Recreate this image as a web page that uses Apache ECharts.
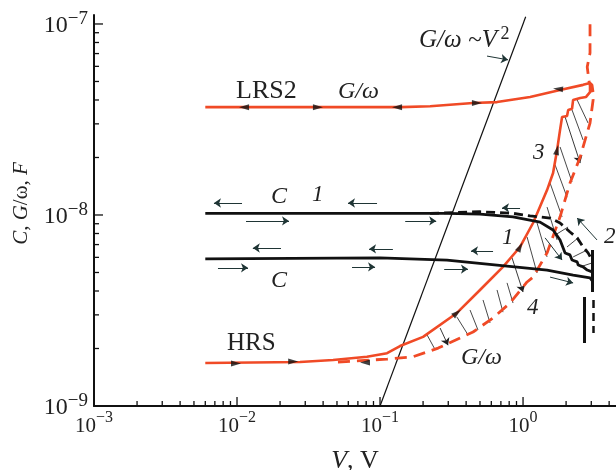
<!DOCTYPE html>
<html><head><meta charset="utf-8">
<script src="https://cdn.jsdelivr.net/npm/echarts@6/dist/echarts.min.js"></script>
<style>html,body{margin:0;padding:0;background:#fff}#c{width:616px;height:470px}</style>
</head><body><div id="c"></div>
<script>
// ---------- axis ticks (decades) ----------
const xMajorTicks = [0.001, 0.01, 0.1, 1];
const xMajorExp = ['−3', '−2', '−1', '0'];
const yMajorTicks = [1e-9, 1e-8, 1e-7];
const yMajorExp = ['−9', '−8', '−7'];
const minorMultipliers = [2, 3, 4, 5, 6, 7, 8, 9];

// ---------- curves [V (volts), value (F)] ----------
const lrs2G = [[0.006,3.67e-8],[0.05,3.67e-8],[0.14,3.67e-8],[0.224,3.71e-8],[0.447,3.86e-8],[0.658,3.90e-8],[1.12,4.15e-8],[1.815,4.51e-8],[2.63,4.80e-8],[2.94,4.91e-8],[3.04,4.80e-8],[3.09,4.41e-8]];
const hrsG = [[0.006,1.68e-9],[0.0276,1.70e-9],[0.047,1.74e-9],[0.081,1.81e-9],[0.112,1.89e-9],[0.138,2.06e-9],[0.200,2.30e-9],[0.345,3.07e-9],[0.500,4.05e-9],[0.724,5.35e-9],[0.953,6.80e-9],[1.175,9.08e-9],[1.472,1.35e-8],[1.622,1.66e-8],[1.730,2.19e-8],[1.815,2.79e-8],[1.875,3.26e-8],[2.03,3.30e-8],[2.07,3.55e-8],[2.20,3.60e-8],[2.24,4.0e-8],[2.51,4.10e-8],[2.76,4.15e-8],[2.94,4.4e-8],[2.94,4.91e-8]];
const hrsGdashed = [[0.0508,1.70e-9],[0.112,1.76e-9],[0.170,1.81e-9],[0.255,2.01e-9],[0.447,2.44e-9],[0.617,2.89e-9],[0.811,3.46e-9],[1.067,4.46e-9],[1.175,4.73e-9],[1.472,6.33e-9],[1.815,9.78e-9],[2.13,1.47e-8],[2.51,2.01e-8],[2.94,3.03e-8],[3.09,4.0e-8],[3.04,4.51e-8],[2.90,4.96e-8],[2.81,5.96e-8],[2.94,7.05e-8],[2.94,1.01e-7]];
const cUpper = [[0.006,1.02e-8],[0.1,1.02e-8],[0.294,1.02e-8],[0.5,1.01e-8],[0.851,9.78e-9],[1.315,9.18e-9],[1.622,8.34e-9],[1.815,7.40e-9],[1.968,6.33e-9],[2.13,6.18e-9],[2.20,5.81e-9],[2.39,5.68e-9],[2.43,5.47e-9],[2.63,5.35e-9],[2.81,5.15e-9],[3.04,5.04e-9]];
const cUpperDashed = [[0.224,1.02e-8],[0.5,1.04e-8],[0.851,1.02e-8],[1.12,9.89e-9],[1.545,9.64e-9],[1.815,9.08e-9],[2.13,8.15e-9],[2.39,7.59e-9],[2.63,6.80e-9],[2.85,6.33e-9],[3.04,5.81e-9]];
const cLower = [[0.006,5.89e-9],[0.1,5.96e-9],[0.294,5.81e-9],[0.658,5.47e-9],[1.472,5.15e-9],[2.24,4.85e-9],[2.94,4.68e-9],[3.09,4.46e-9]];
const blackVerticalSolid = [[[3.04,6.56e-9],[3.04,3.95e-9]],[[2.67,3.72e-9],[2.67,2.14e-9]]];
const blackVerticalDashed = [[[3.09,3.59e-9],[3.09,2.41e-9]]];
const powerLaw = [[0.1,1e-9],[1.044,1.09e-7]];

// ---------- hatching segments [[V1,F1],[V2,F2], arrow?] ----------
const hatchRed = [
 [[0.213,2.36e-9],[0.243,1.97e-9],0],[[0.263,2.56e-9],[0.299,2.08e-9],1],[[0.345,2.92e-9],[0.412,2.36e-9],0],
 [[0.426,3.18e-9],[0.484,2.50e-9],0],[[0.525,3.59e-9],[0.588,2.72e-9],0],[[0.658,4.05e-9],[0.724,3.10e-9],0],
 [[0.773,4.41e-9],[0.851,3.46e-9],0],[[0.838,5.96e-9],[1.0,3.95e-9],1],[[1.067,7.67e-9],[1.253,4.97e-9],0],
 [[1.253,9.08e-9],[1.472,6.03e-9],0],[[1.472,1.10e-8],[1.730,7.40e-9],0],[[1.545,1.47e-8],[1.875,9.78e-9],0],
 [[1.675,1.83e-8],[2.03,1.24e-8],0],[[1.815,2.27e-8],[2.20,1.49e-8],0],[[1.968,3.26e-8],[2.51,1.87e-8],1],
 [[2.20,3.55e-8],[2.63,2.47e-8],0],[[2.39,4.00e-8],[2.85,3.03e-8],0]
];
const hatchBlack = [
 [[1.675,7.85e-9],[2.065,8.65e-9]],[[2.03,6.80e-9],[2.43,7.59e-9]],[[2.24,6.03e-9],[2.81,6.56e-9]],[[2.51,5.35e-9],[3.04,5.61e-9]]
];
// ---------- direction arrows [[Vstart,Fstart],[Vend,Fend]] ----------
const freeArrows = [
 [[0.01084,1.155e-8],[0.0069,1.155e-8]],[[0.0953,1.155e-8],[0.0597,1.155e-8]],[[0.953,1.09e-8],[0.713,1.09e-8]],
 [[0.01156,9.31e-9],[0.0231,9.31e-9]],[[0.150,9.31e-9],[0.247,9.31e-9]],
 [[0.0203,6.72e-9],[0.0129,6.72e-9]],[[0.123,6.64e-9],[0.0838,6.64e-9]],[[0.617,6.49e-9],[0.433,6.49e-9]],
 [[0.00736,5.29e-9],[0.01194,5.29e-9]],[[0.0637,5.35e-9],[0.0923,5.35e-9]],[[0.281,5.21e-9],[0.412,5.21e-9]],
 [[1.545,4.73e-9],[2.24,4.41e-9]],[[1.426,7.59e-9],[1.875,5.81e-9]],[[3.29,7.40e-9],[2.39,9.64e-9]],
 [[0.560,6.79e-8],[0.785,6.49e-8]]
];
// arrowheads sitting on curves: [V, F, rotation deg]
const curveHeads = [
 [0.0112,3.67e-8,90],[0.0368,3.67e-8,-90],[0.1315,3.67e-8,90],[0.476,3.86e-8,-90],[1.757,4.57e-8,85],
 [0.00984,1.67e-9,-90],[0.0247,1.71e-9,-90],[0.0785,1.69e-9,90],[0.345,3.07e-9,-50],[0.953,6.80e-9,-28],[1.73,2.19e-8,-12]
];

const RED = '#f04a26', BLK = '#111';
const serif = 'Liberation Serif';

// both axes are logarithmic: values are mapped to decades (log10) and drawn on value axes
const lg = Math.log10;
const P = p => [lg(p[0]), lg(p[1])];
const L = pts => pts.map(P);

function lab(exp){ return '{b|10}{s|' + exp + '}'; }
const xLabelRich = {
  b: {fontFamily: serif, fontSize: 21, color: '#222', verticalAlign: 'bottom', lineHeight: 27},
  s: {fontFamily: serif, fontSize: 16, color: '#222', verticalAlign: 'top', lineHeight: 27}
};
const yLabelRich = {
  b: {fontFamily: serif, fontSize: 24, color: '#222', verticalAlign: 'bottom', lineHeight: 28},
  s: {fontFamily: serif, fontSize: 19, color: '#222', verticalAlign: 'top', lineHeight: 28}
};
function minorList(decades){ const r=[]; decades.forEach(d=>minorMultipliers.forEach(m=>r.push(m*d))); return r; }

const xMinLog = -3, xMaxLog = 0.65;
const yMinLog = -9, yMaxLog = -6.953;
const G = {left:94, right:0, top:15, bottom:64};
const xMajorLog = xMajorTicks.map(lg), yMajorLog = yMajorTicks.map(lg);
const xMinorLog = minorList([0.001,0.01,0.1,1]).map(lg).filter(v=>v<xMaxLog);
const yMinorLog = minorList([1e-9,1e-8]).map(lg);
function expFor(list, exps, v){ let best=0; list.forEach((t,i)=>{ if (Math.abs(t-v) < Math.abs(list[best]-v)) best=i; }); return exps[best]; }

// tick items: [x, y, length(px), direction 0 = up from x axis, 1 = right from y axis]
const MAJOR_LEN = 9, MINOR_LEN = 5;
const tickItems = []
  .concat(xMinorLog.map(v => [v, yMinLog, MINOR_LEN, 0]))
  .concat(xMajorLog.slice(1).map(v => [v, yMinLog, MAJOR_LEN, 0]))
  .concat(yMinorLog.map(v => [xMinLog, v, MINOR_LEN, 1]))
  .concat(yMajorLog.slice(1).map(v => [xMinLog, v, MAJOR_LEN, 1]));

const textLabels = [
  {type:'text', style:{x:419, y:40, text:'{i|G/ω}  {n|~}{i|V} {s|2}', verticalAlign:'middle', rich:{i:{fontFamily:serif,fontStyle:'italic',fontSize:25,fill:'#222'},n:{fontFamily:serif,fontSize:25,fill:'#222'},s:{fontFamily:serif,fontSize:18,fill:'#222',verticalAlign:'top',lineHeight:30}}}},
  {type:'text', style:{x:236, y:91, text:'LRS2', font:'26px "Liberation Serif"', fill:'#222', verticalAlign:'middle'}},
  {type:'text', style:{x:338, y:92, text:'G/ω', font:'italic 24px "Liberation Serif"', fill:'#222', verticalAlign:'middle'}},
  {type:'text', style:{x:271, y:197, text:'C', font:'italic 24px "Liberation Serif"', fill:'#222', verticalAlign:'middle'}},
  {type:'text', style:{x:312, y:195, text:'1', font:'italic 23px "Liberation Serif"', fill:'#222', verticalAlign:'middle'}},
  {type:'text', style:{x:271, y:281, text:'C', font:'italic 24px "Liberation Serif"', fill:'#222', verticalAlign:'middle'}},
  {type:'text', style:{x:502, y:238, text:'1', font:'italic 23px "Liberation Serif"', fill:'#222', verticalAlign:'middle'}},
  {type:'text', style:{x:604, y:237, text:'2', font:'italic 23px "Liberation Serif"', fill:'#222', verticalAlign:'middle'}},
  {type:'text', style:{x:533, y:153, text:'3', font:'italic 23px "Liberation Serif"', fill:'#222', verticalAlign:'middle'}},
  {type:'text', style:{x:527, y:308, text:'4', font:'italic 23px "Liberation Serif"', fill:'#222', verticalAlign:'middle'}},
  {type:'text', style:{x:227, y:343, text:'HRS', font:'25px "Liberation Serif"', fill:'#222', verticalAlign:'middle'}},
  {type:'text', style:{x:461, y:358, text:'G/ω', font:'italic 24px "Liberation Serif"', fill:'#222', verticalAlign:'middle'}}
];

const chart = echarts.init(document.getElementById('c'), null, {renderer:'canvas'});
const option = {
  animation: false,
  backgroundColor: '#fff',
  grid: {left:G.left, right:G.right, top:G.top, bottom:G.bottom, containLabel:false, outerBoundsMode:'none'},
  xAxis: {
    type:'value', min:xMinLog, max:xMaxLog, position:'bottom', splitLine:{show:false},
    axisLine:{show:true, onZero:false, lineStyle:{color:BLK, width:2}},
    axisTick:{show:false},
    axisLabel:{show:true, margin:4, fontFamily:serif, fontSize:21, color:'#222', customValues: xMajorLog, rich: xLabelRich,
      formatter: v => lab(expFor(xMajorLog, xMajorExp, v))},
    name:'{i|V}{n|, V}', nameLocation:'middle', nameGap:42,
    nameTextStyle:{rich:{i:{fontFamily:serif,fontStyle:'italic',fontSize:26,color:'#222'},n:{fontFamily:serif,fontSize:26,color:'#222'}}}
  },
  yAxis: {
    type:'value', min:yMinLog, max:yMaxLog, position:'left', splitLine:{show:false},
    axisLine:{show:true, onZero:false, lineStyle:{color:BLK, width:2}},
    axisTick:{show:false},
    axisLabel:{show:true, margin:6, fontFamily:serif, fontSize:24, color:'#222', customValues: yMajorLog, rich: yLabelRich,
      formatter: v => lab(expFor(yMajorLog, yMajorExp, v))},
    name:'{i|C}{n|, }{i|G}{n|/ω, }{i|F}', nameLocation:'middle', nameGap:62, nameRotate:90,
    nameTextStyle:{padding:[0,0,0,14], rich:{i:{fontFamily:serif,fontStyle:'italic',fontSize:21,color:'#222'},n:{fontFamily:serif,fontSize:21,color:'#222'}}}
  },
  series: [
    // log-spaced axis ticks drawn through the axes' own coordinate mapping
    {type:'custom', silent:true, clip:false, z:10, data: tickItems, encode:{x:0, y:1},
      renderItem: (params, api) => {
        const p = api.coord([api.value(0), api.value(1)]);
        const len = api.value(2), dir = api.value(3);
        return {type:'line', shape: dir === 0 ? {x1:p[0], y1:p[1], x2:p[0], y2:p[1]-len} : {x1:p[0], y1:p[1], x2:p[0]+len, y2:p[1]},
          style:{stroke:BLK, lineWidth:1.3}};
      }},
    {type:'line', data: L(powerLaw), showSymbol:false, lineStyle:{color:BLK, width:1.2}, z:2},
    {type:'line', data: L(lrs2G), showSymbol:false, lineStyle:{color:RED, width:2.6}, z:3},
    {type:'line', data: L(hrsG), showSymbol:false, lineStyle:{color:RED, width:2.6}, z:3},
    {type:'line', data: L(hrsGdashed), showSymbol:false, lineStyle:{color:RED, width:2.8, type:[12,7]}, z:3},
    {type:'line', data: L(cUpper), showSymbol:false, lineStyle:{color:BLK, width:2.8}, z:4},
    {type:'line', data: L(cUpperDashed), showSymbol:false, lineStyle:{color:BLK, width:2.8, type:[9,5]}, z:4},
    {type:'line', data: L(cLower), showSymbol:false, lineStyle:{color:BLK, width:2.8}, z:4},
    {type:'lines', coordinateSystem:'cartesian2d', data: blackVerticalSolid.map(c=>({coords:L(c)})), lineStyle:{color:BLK, width:3, opacity:1}, symbol:'none', z:4},
    {type:'lines', coordinateSystem:'cartesian2d', data: blackVerticalDashed.map(c=>({coords:L(c)})), lineStyle:{color:BLK, width:2.5, type:[8,5], opacity:1}, symbol:'none', z:4},
    {type:'lines', coordinateSystem:'cartesian2d', data: hatchRed.filter(h=>!h[2]).map(h=>({coords:[P(h[0]),P(h[1])]})), lineStyle:{color:'#333', width:0.9, opacity:1}, symbol:'none', z:2},
    {type:'lines', coordinateSystem:'cartesian2d', data: hatchRed.filter(h=>h[2]).map(h=>({coords:[P(h[0]),P(h[1])]})), lineStyle:{color:'#222', width:0.9, opacity:1}, symbol:['none','arrow'], symbolSize:7, z:2},
    {type:'lines', coordinateSystem:'cartesian2d', data: hatchBlack.map(h=>({coords:L(h)})), lineStyle:{color:'#333', width:0.9, opacity:1}, symbol:'none', z:2},
    {type:'lines', coordinateSystem:'cartesian2d', data: freeArrows.map(h=>({coords:L(h)})), lineStyle:{color:'#1f3535', width:1, opacity:1}, symbol:['none','arrow'], symbolSize:7, z:5},
    {type:'scatter', data: curveHeads.map(h=>({value:P(h), symbolRotate:h[2]})), symbol:'triangle', symbolSize:[6,10], itemStyle:{color:'#111'}, z:6}
  ],
  graphic: textLabels
};
chart.setOption(option);
</script>
</body></html>
